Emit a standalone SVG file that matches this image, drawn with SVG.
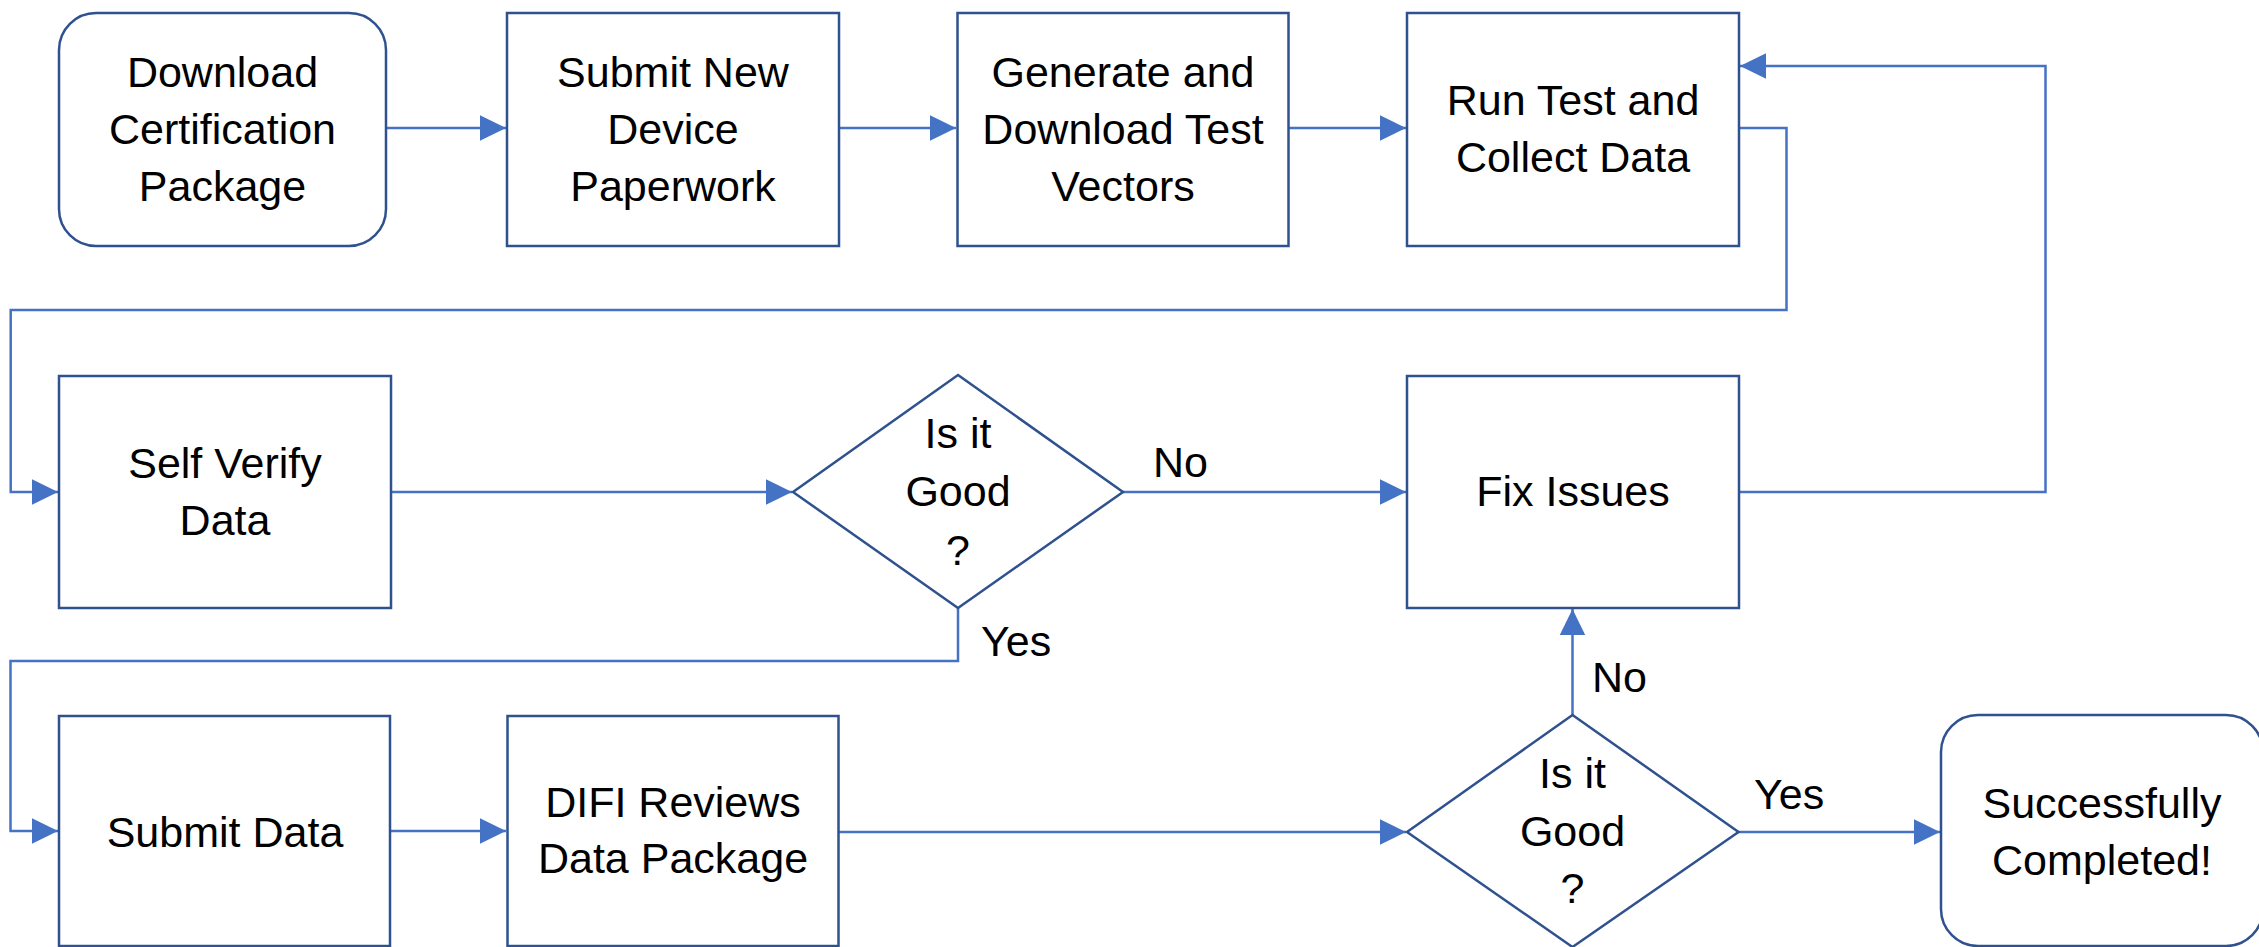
<svg xmlns="http://www.w3.org/2000/svg" width="2259" height="947" viewBox="0 0 2259 947">
  <style>
    .box { fill: #ffffff; stroke: #2F528F; stroke-width: 2.5; }
    .wire { fill: none; stroke: #4472C4; stroke-width: 2.5; marker-end: url(#arrow); }
    text { font-family: "Liberation Sans", Arial, sans-serif; font-size: 43px; fill: #000000; }
    .c { text-anchor: middle; }
  </style>
  <defs>
    <marker id="arrow" markerUnits="userSpaceOnUse" markerWidth="27" markerHeight="26" refX="26" refY="12.7" orient="auto">
      <path d="M0,0 L26,12.7 L0,25.4 Z" fill="#4472C4"/>
    </marker>
  </defs>
  <rect width="2259" height="947" fill="#ffffff"/>

  <g id="connectors">
    <path class="wire" d="M386,128 H506"/>
    <path class="wire" d="M839,128 H956"/>
    <path class="wire" d="M1288.5,128 H1406"/>
    <path class="wire" d="M1738.6,128 H1786.5 V310 H10.7 V492 H58"/>
    <path class="wire" d="M391,492 H792"/>
    <path class="wire" d="M1123,492 H1406"/>
    <path class="wire" d="M1738.6,492 H2045.5 V66 H1740"/>
    <path class="wire" d="M958,608 V661 H10.5 V831 H58"/>
    <path class="wire" d="M390,831 H506"/>
    <path class="wire" d="M838,832 H1406"/>
    <path class="wire" d="M1572.5,715 V609"/>
    <path class="wire" d="M1738.5,832 H1940"/>
    <text x="1153" y="477">No</text>
    <text x="981" y="656">Yes</text>
    <text x="1592" y="692">No</text>
    <text x="1754" y="809">Yes</text>
  </g>

  <g id="download-package">
    <rect class="box" x="59" y="13" width="327" height="233" rx="37" ry="37"/>
    <text class="c" x="222.5" y="87">Download</text>
    <text class="c" x="222.5" y="144">Certification</text>
    <text class="c" x="222.5" y="201">Package</text>
  </g>

  <g id="submit-paperwork">
    <rect class="box" x="507" y="13" width="332" height="233"/>
    <text class="c" x="673" y="87">Submit New</text>
    <text class="c" x="673" y="144">Device</text>
    <text class="c" x="673" y="201">Paperwork</text>
  </g>

  <g id="generate-vectors">
    <rect class="box" x="957.5" y="13" width="331" height="233"/>
    <text class="c" x="1123" y="87">Generate and</text>
    <text class="c" x="1123" y="144">Download Test</text>
    <text class="c" x="1123" y="201">Vectors</text>
  </g>

  <g id="run-test">
    <rect class="box" x="1407" y="13" width="332" height="233"/>
    <text class="c" x="1573" y="115">Run Test and</text>
    <text class="c" x="1573" y="172">Collect Data</text>
  </g>

  <g id="self-verify">
    <rect class="box" x="59" y="376" width="332" height="232"/>
    <text class="c" x="225" y="478">Self Verify</text>
    <text class="c" x="225" y="535">Data</text>
  </g>

  <g id="check-self">
    <polygon class="box" points="958,375 1123,492 958,608 793,492"/>
    <text class="c" x="958" y="448">Is it</text>
    <text class="c" x="958" y="506">Good</text>
    <text class="c" x="958" y="565">?</text>
  </g>

  <g id="fix-issues">
    <rect class="box" x="1407" y="376" width="332" height="232"/>
    <text class="c" x="1573" y="506">Fix Issues</text>
  </g>

  <g id="submit-data">
    <rect class="box" x="59" y="716" width="331" height="230"/>
    <text class="c" x="225" y="847">Submit Data</text>
  </g>

  <g id="difi-review">
    <rect class="box" x="507.5" y="716" width="331" height="230"/>
    <text class="c" x="673" y="817">DIFI Reviews</text>
    <text class="c" x="673" y="873">Data Package</text>
  </g>

  <g id="check-review">
    <polygon class="box" points="1572.5,715 1738.5,832 1572.5,947 1407,832"/>
    <text class="c" x="1572.5" y="788">Is it</text>
    <text class="c" x="1572.5" y="846">Good</text>
    <text class="c" x="1572.5" y="903">?</text>
  </g>

  <g id="completed">
    <rect class="box" x="1941" y="715" width="322" height="231" rx="37" ry="37"/>
    <text class="c" x="2102" y="818">Successfully</text>
    <text class="c" x="2102" y="875">Completed!</text>
  </g>
</svg>
